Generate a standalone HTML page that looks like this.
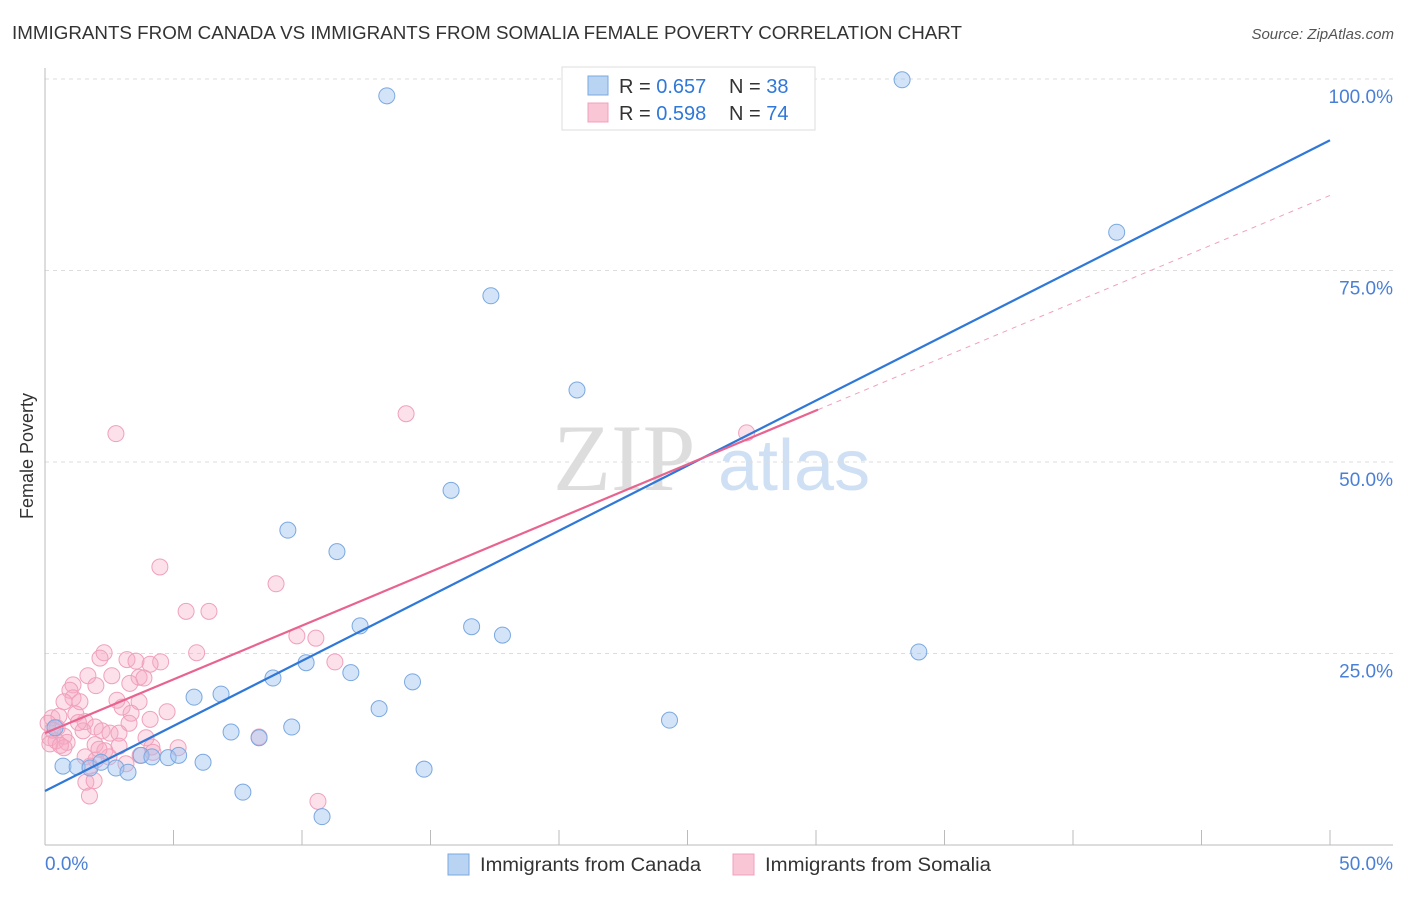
<!DOCTYPE html>
<html><head><meta charset="utf-8"><style>
body{margin:0;background:#fff;font-family:"Liberation Sans",sans-serif}
</style></head><body>
<svg id="chart" width="1406" height="892" xmlns="http://www.w3.org/2000/svg" font-family="Liberation Sans, sans-serif">
<text x="12" y="39" font-size="18" fill="#333" textLength="950" lengthAdjust="spacingAndGlyphs">IMMIGRANTS FROM CANADA VS IMMIGRANTS FROM SOMALIA FEMALE POVERTY CORRELATION CHART</text>
<text x="1394" y="39" font-size="15" fill="#555" font-style="italic" text-anchor="end">Source: ZipAtlas.com</text>
<g>
<text x="553" y="490" font-size="95" fill="#ddd" font-family="Liberation Serif, serif">ZIP</text>
<text x="718" y="490" font-size="72" fill="#cfe0f4">atlas</text>
</g>
<g id="grid"></g>
<line x1="45" y1="68" x2="45" y2="845" stroke="#bbb"/>
<line x1="45" y1="845" x2="1393" y2="845" stroke="#bbb"/>
<g id="ticks"></g>
<text transform="translate(33,456) rotate(-90)" font-size="18" fill="#333" text-anchor="middle">Female Poverty</text>
<text x="45" y="870" font-size="19" fill="#4a7fd6">0.0%</text>
<text x="1393" y="870" font-size="19" fill="#4a7fd6" text-anchor="end">50.0%</text>
<g id="pts"></g>
<g id="lines"></g>
<g>
<rect x="562" y="67" width="253" height="63" fill="#fff" stroke="#ddd"/>
<rect x="588" y="76" width="20" height="19" fill="#b9d3f3" stroke="#7aa8e0"/>
<rect x="588" y="103" width="20" height="19" fill="#f9c6d6" stroke="#f0a0bc"/>
<text x="619" y="93" font-size="20" fill="#333">R = <tspan fill="#2f78d8">0.657</tspan></text>
<text x="729" y="93" font-size="20" fill="#333">N = <tspan fill="#2f78d8">38</tspan></text>
<text x="619" y="120" font-size="20" fill="#333">R = <tspan fill="#2f78d8">0.598</tspan></text>
<text x="729" y="120" font-size="20" fill="#333">N = <tspan fill="#2f78d8">74</tspan></text>
</g>
<g>
<rect x="448" y="854" width="21" height="21" fill="#b9d3f3" stroke="#7aa8e0"/>
<text x="480" y="871" font-size="19" fill="#333" textLength="221" lengthAdjust="spacingAndGlyphs">Immigrants from Canada</text>
<rect x="733" y="854" width="21" height="21" fill="#f9c6d6" stroke="#f0a0bc"/>
<text x="765" y="871" font-size="19" fill="#333" textLength="226" lengthAdjust="spacingAndGlyphs">Immigrants from Somalia</text>
</g>
</svg>
<script>
const yTicks=[25,50,75,100];
const xTicks=[0,5,10,15,20,25,30,35,40,45,50];
const canadaX=[13.3,33.35,41.7,17.35,20.7,15.8,9.45,11.36,12.26,16.6,17.8,34.0,10.16,8.87,11.9,14.3,5.8,6.85,13.0,24.3,9.6,7.24,8.33,0.7,1.25,1.75,2.18,2.76,3.23,3.74,4.16,4.79,5.2,6.15,14.75,7.7,10.78,0.39];
const canadaY=[97.8,99.9,80.0,71.7,59.4,46.3,41.1,38.3,28.6,28.5,27.4,25.2,23.8,21.8,22.5,21.3,19.3,19.7,17.8,16.3,15.4,14.75,14.0,10.3,10.2,10.05,10.8,10.05,9.5,11.7,11.5,11.4,11.7,10.8,9.9,6.9,3.7,15.3];
const somaliaX=[2.76,14.05,27.3,4.47,8.99,5.49,6.38,9.8,10.54,11.28,2.3,5.9,2.14,3.19,3.54,4.5,4.09,1.67,2.6,3.66,3.85,1.09,1.98,0.97,3.3,1.09,1.36,0.74,2.8,3.66,3.0,4.75,3.35,1.2,0.27,0.54,4.09,3.27,1.56,1.95,0.12,0.47,1.48,2.22,2.53,2.88,0.74,0.19,0.43,0.86,0.19,3.93,8.33,1.95,2.88,0.74,4.16,5.18,2.33,4.2,3.7,1.56,2.49,1.98,3.15,1.75,1.59,1.91,1.73,10.62,0.3,0.6,1.3,2.1];
const somaliaY=[53.7,56.3,53.8,36.3,34.1,30.5,30.5,27.3,27.0,23.9,25.1,25.1,24.4,24.2,24.0,23.9,23.6,22.1,22.1,21.9,21.8,20.9,20.8,20.2,21.1,19.2,18.7,18.7,18.9,18.7,18.0,17.4,17.2,17.1,16.6,16.8,16.4,15.9,16.1,15.4,15.9,15.3,14.9,14.9,14.6,14.6,14.2,14.0,13.6,13.4,13.2,14.0,14.1,13.1,12.9,12.7,12.8,12.7,12.3,12.1,11.7,11.5,11.5,11.1,10.6,10.3,8.2,8.4,6.4,5.7,15.0,13.0,16.0,12.5];
const canadaFit=[7.05,92.0];
const somaliaFit=[14.6,84.8];
const somaliaSolidEnd=30.08;
const NS="http://www.w3.org/2000/svg";
const xs=v=>45+v*25.7, ys=v=>845-v*7.66;
function mk(t,a,p){const e=document.createElementNS(NS,t);for(const k in a)e.setAttribute(k,a[k]);p.appendChild(e);return e;}
const grid=document.getElementById('grid');
yTicks.forEach(t=>{
 const l=mk('line',{x1:45,x2:1393,y1:ys(t),y2:ys(t),stroke:'#ddd','stroke-dasharray':'4,4'},grid);
 
 
 const tx=mk('text',{x:1393,y:ys(t)+24,'font-size':19,fill:'#4a7fd6','text-anchor':'end'},grid);
 tx.textContent=t.toFixed(1)+'%';
 
 
});
const tk=document.getElementById('ticks');
xTicks.forEach(t=>{
 const l=mk('line',{x1:xs(t),x2:xs(t),y1:830,y2:845,stroke:'#bbb'},tk);
 
 
});
const pts=document.getElementById('pts');
somaliaX.forEach((x,i)=>{
 const c=mk('circle',{cx:xs(x),cy:ys(somaliaY[i]),r:8,fill:'rgba(246,170,196,0.35)',stroke:'#f0a0bc','stroke-width':1},pts);
 
 
});
canadaX.forEach((x,i)=>{
 const c=mk('circle',{cx:xs(x),cy:ys(canadaY[i]),r:8,fill:'rgba(160,196,240,0.45)',stroke:'#7aa8e0','stroke-width':1},pts);
 
 
});
const ln=document.getElementById('lines');
const sy=x=>somaliaFit[0]+(somaliaFit[1]-somaliaFit[0])*x/50;
let a=mk('line',{x1:xs(somaliaSolidEnd),y1:ys(sy(somaliaSolidEnd)),x2:xs(50),y2:ys(somaliaFit[1]),stroke:'#f0a0bc','stroke-dasharray':'5,5'},ln);


a=mk('line',{x1:xs(0),y1:ys(canadaFit[0]),x2:xs(50),y2:ys(canadaFit[1]),stroke:'#2f78d8','stroke-width':2.2},ln);


a=mk('line',{x1:xs(0),y1:ys(somaliaFit[0]),x2:xs(somaliaSolidEnd),y2:ys(sy(somaliaSolidEnd)),stroke:'#e8648f','stroke-width':2.2},ln);


</script>
</body></html>
